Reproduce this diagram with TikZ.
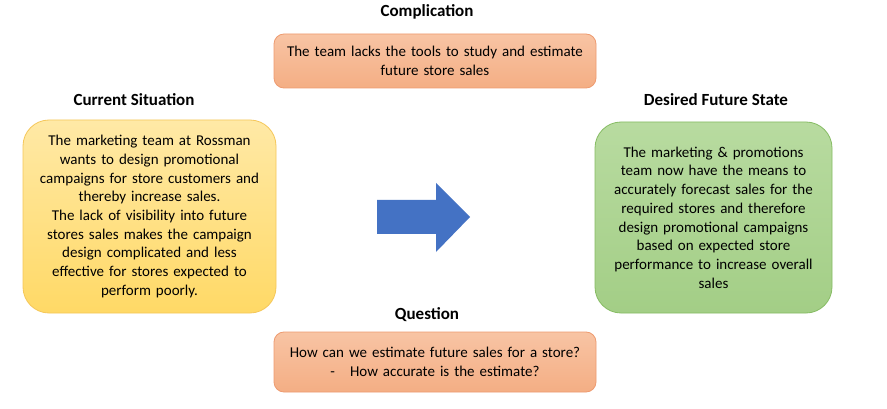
\documentclass[tikz,border=0pt]{standalone}
\usepackage{fontspec}
\setmainfont{Carlito}
\usepackage{xcolor}
\usetikzlibrary{shapes.geometric, arrows}
\definecolor{sitfill}{HTML}{FFD966}
\definecolor{sittop}{HTML}{FFE9A6}
\definecolor{sitline}{HTML}{F5C75A}
\definecolor{futfill}{HTML}{A3CE86}
\definecolor{futtop}{HTML}{B8DBA0}
\definecolor{futline}{HTML}{86BC63}
\definecolor{qfill}{HTML}{F4AE84}
\definecolor{qtop}{HTML}{F8C4A4}
\definecolor{qline}{HTML}{EE9B70}
\definecolor{arrowblue}{HTML}{4472C4}

\begin{document}
\begin{tikzpicture}[x=1pt,y=-1pt,
  title/.style={font=\bfseries\fontsize{17}{20}\selectfont},
  bodytext/.style={font=\fontsize{15}{18.7}\selectfont, align=center, inner sep=0pt},
  sitbox/.style={bodytext, rounded corners=26pt, draw=sitline, line width=0.8pt, top color=sittop, bottom color=sitfill},
  futbox/.style={bodytext, rounded corners=26pt, draw=futline, line width=0.8pt, top color=futtop, bottom color=futfill},
  qbox/.style={bodytext, rounded corners=10pt, draw=qline, line width=0.8pt, top color=qtop, bottom color=qfill}]
\useasboundingbox (0,0) rectangle (887,409);
\fill[white] (0,0) rectangle (887,409);

\node[title] (comptitle) at (427,12) {Complication};
\node[qbox, minimum width=322pt, minimum height=54pt, text width=315pt] (comp) at (435,61) {The team lacks the tools to study and estimate\\future store sales};

\node[title] (sittitle) at (134,100) {Current Situation};
\node[sitbox, minimum width=253pt, minimum height=193pt, text width=245pt] (current) at (149.5,216.5) {The marketing team at Rossman\\wants to design promotional\\campaigns for store customers and\\thereby increase sales.\\The lack of visibility into future\\stores sales makes the campaign\\design complicated and less\\effective for stores expected to\\perform poorly.};

\node[title] (futtitle) at (716,100) {Desired Future State};
\node[futbox, minimum width=237pt, minimum height=191pt, text width=230pt] (desired) at (713.5,217.5) {The marketing \& promotions\\team now have the means to\\accurately forecast sales for the\\required stores and therefore\\design promotional campaigns\\based on expected store\\performance to increase overall\\sales};

\node[title] (qtitle) at (427,315) {Question};
\node[qbox, minimum width=322pt, minimum height=60pt, text width=315pt] (question) at (435,362) {How can we estimate future sales for a store?\\-\hspace{15pt}How accurate is the estimate?};

% big arrow in the middle
\fill[arrowblue] (377,200) -- (436,200) -- (436,183) -- (470,217) -- (436,252) -- (436,234) -- (377,234) -- cycle;
\end{tikzpicture}
\end{document}
